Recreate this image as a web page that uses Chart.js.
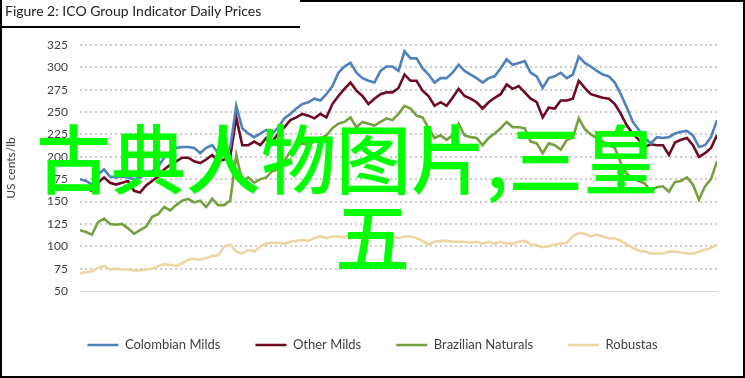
<!DOCTYPE html>
<html>
<head>
<meta charset="utf-8">
<script src="https://cdn.jsdelivr.net/npm/chart.js@4"></script>
<style>
  html, body { margin: 0; padding: 0; background: #fff; }
  #wrap { position: relative; width: 745px; height: 378px; overflow: hidden; }
  #myChart { position: absolute; left: 0; top: 0; }
  .title { position: absolute; left: 5px; top: 2px; font: 14px Lato, sans-serif; color: #222; }
  .frame { position: absolute; background: #000; }
  .overlay { position: absolute; font-family: "Noto Sans CJK SC", sans-serif; font-size: 75px; line-height: 75px;
             color: #00ff00; white-space: nowrap; font-weight: 500; }
</style>
</head>
<body>
<div id="wrap">
  <canvas id="myChart" width="745" height="378"></canvas>
  <div class="title">Figure 2: ICO Group Indicator Daily Prices</div>
  <div class="frame" style="left:0;top:0;width:2px;height:378px"></div>
  <div class="frame" style="right:0;top:0;width:2px;height:378px"></div>
  <div class="frame" style="left:0;bottom:0;width:745px;height:2px"></div>
  <div class="frame" style="left:0;top:26px;width:300px;height:2px"></div>
  <div class="frame" style="left:300px;top:0;width:445px;height:2px"></div>
  <div class="overlay" style="left:36px;top:118px">古典人物图片,三皇</div>
  <div class="overlay" style="left:335px;top:196px">五</div>
</div>
<script>
// weekly readings, first week of Feb-21 to mid Feb-23 (US cents/lb)
var colombian = [175,173,169,180,186,178,177,178,177,175,177,180,184,189,199,204,210,211,211,210,204,210,213,204,204,210,
  257,232,226,222,226,230,226,233,243,248,254,259,261,265,263,270,279,294,301,305,294,288,285,283,296,301,301,296,
  318,310,310,299,292,283,288,288,294,303,296,292,288,283,288,290,299,309,303,305,307,294,290,277,288,290,294,
  288,292,312,305,301,296,292,290,283,270,255,239,230,221,215,222,221,222,226,228,229,224,211,213,222,241];
var otherMilds = [164,164,162,171,177,171,169,171,173,162,160,168,173,178,186,191,195,199,199,195,193,197,202,195,197,200,
  244,213,213,217,213,221,217,226,233,241,244,248,246,243,248,244,259,268,276,283,274,268,259,265,270,272,272,277,
  292,285,285,274,268,257,261,257,266,276,268,265,261,254,261,266,270,281,276,279,272,265,261,244,255,254,263,
  263,265,285,277,270,268,266,265,259,248,235,226,219,211,214,213,213,202,216,219,221,213,200,204,210,224];
var brazilian = [118,116,113,127,131,125,124,125,120,114,118,122,133,136,144,140,146,151,153,149,151,144,153,146,146,151,
  202,172,177,171,175,177,184,186,195,206,213,215,213,217,221,224,232,237,239,244,233,239,237,235,239,243,241,248,
  257,254,246,244,232,221,224,219,224,237,224,222,221,213,221,226,232,239,233,233,232,217,215,204,215,213,208,
  219,221,243,231,225,221,217,213,210,193,181,176,173,170,162,166,167,161,172,173,177,169,152,167,175,195];
var robustas = [70,71,72,76,78,74,75,74,74,73,73,74,75,78,80,79,78,81,85,86,85,87,89,90,100,102,
  94,92,96,94,100,103,104,104,103,105,106,107,106,109,111,109,111,111,110,113,113,114,111,112,109,111,111,109,
  111,111,109,106,102,105,106,106,105,105,105,104,105,103,105,103,105,103,103,105,106,102,101,99,100,102,103,
  104,111,115,114,111,113,111,109,109,106,102,98,95,94,92,92,92,94,94,93,92,92,94,96,98,102];

var tickWeeks = [0, 13, 26, 39, 52, 65, 78, 91];
var tickLabels = ['Feb-21', 'May-21', 'Aug-21', 'Nov-21', 'Feb-22', 'May-22', 'Aug-22', 'Nov-22'];

function pts(arr) {
  return arr.map(function (v, i) { return {x: i, y: v}; });
}

function line(label, arr, color) {
  return {
    label: label,
    data: pts(arr),
    borderColor: color,
    backgroundColor: color,
    borderWidth: 2.6,
    pointRadius: 0,
    tension: 0
  };
}

var ctx = document.getElementById('myChart').getContext('2d');
var myChart = new Chart(ctx, {
  type: 'line',
  data: {
    datasets: [
      line('Colombian Milds', colombian, '#4f81bd'),
      line('Other Milds', otherMilds, '#6e0a22'),
      line('Brazilian Naturals', brazilian, '#76a03f'),
      line('Robustas', robustas, '#ecd6a3')
    ]
  },
  options: {
    responsive: false,
    animation: false,
    layout: { padding: { top: 45, right: 0, bottom: 16.5, left: 0 } },
    plugins: {
      tooltip: { enabled: false },
      legend: {
        position: 'bottom',
        labels: {
          usePointStyle: true,
          pointStyle: 'line',
          pointStyleWidth: 31,
          padding: 35,
          color: '#404040',
          font: { family: 'Lato', size: 13 }
        }
      }
    },
    scales: {
      x: {
        type: 'linear',
        min: 0,
        max: colombian.length - 1,
        afterBuildTicks: function (scale) {
          scale.ticks = tickWeeks.map(function (w) { return {value: w}; });
        },
        afterFit: function (scale) { scale.height = 12.5; },
        grid: { display: false, drawTicks: false },
        border: { display: true, color: '#d9d9d9', width: 1 },
        ticks: {
          autoSkip: false,
          maxRotation: 0,
          padding: 13,
          color: '#404040',
          font: { family: 'Lato', size: 12 },
          callback: function (v, i) { return tickLabels[i]; }
        }
      },
      y: {
        min: 50,
        max: 325,
        afterFit: function (scale) { scale.width = 80; },
        border: { display: false, dash: [2, 3] },
        grid: {
          drawTicks: false,
          lineWidth: 2,
          color: function (c) { return c.tick && c.tick.value === 50 ? 'rgba(0,0,0,0)' : '#cccccc'; }
        },
        ticks: {
          stepSize: 25,
          padding: 12,
          color: '#404040',
          font: { family: 'Lato', size: 12 }
        },
        title: {
          display: true,
          text: 'US cents/lb',
          color: '#404040',
          font: { family: 'Lato', size: 12 }
        }
      },
      // empty right-hand strip so the plot stops where the source does
      pad: {
        position: 'right',
        afterFit: function (scale) { scale.width = 28; },
        grid: { display: false, drawTicks: false },
        border: { display: false },
        ticks: { display: false }
      }
    }
  }
});
</script>
</body>
</html>
